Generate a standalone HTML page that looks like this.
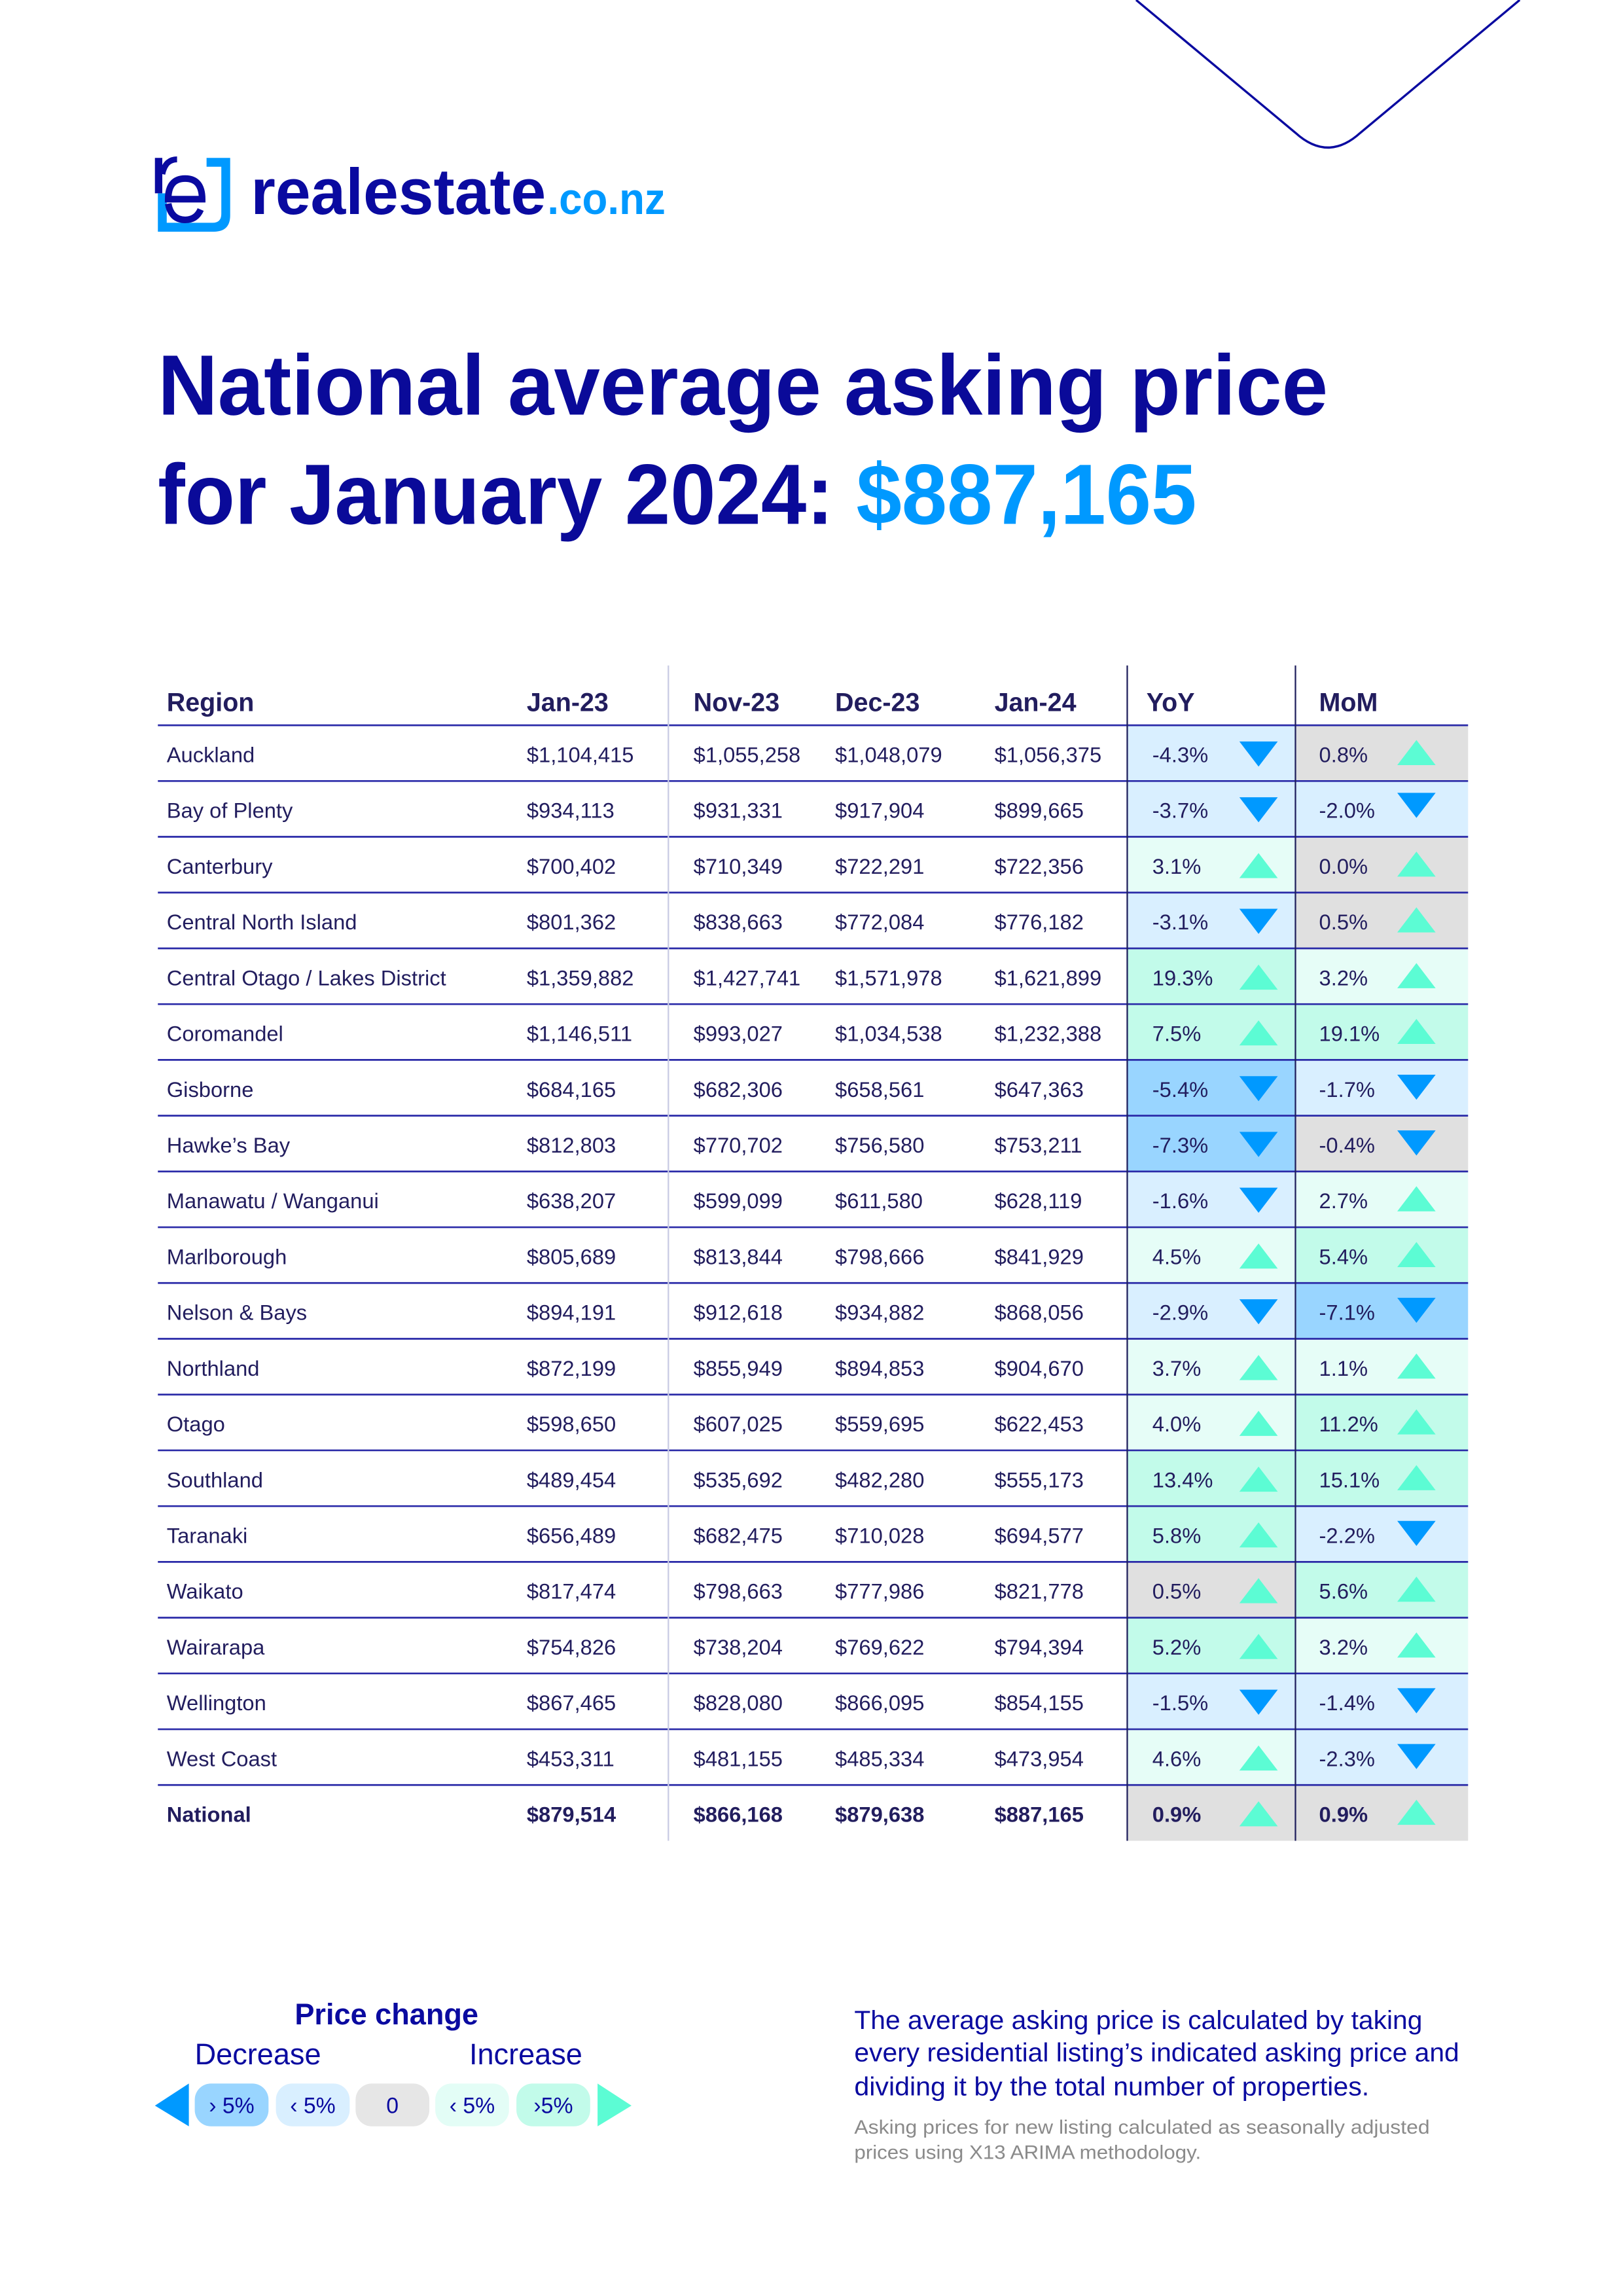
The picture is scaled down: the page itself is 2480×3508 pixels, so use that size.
<!DOCTYPE html>
<html><head><meta charset="utf-8"><style>
html,body{margin:0;padding:0;background:#fff;}
svg{display:block;}
.t{font-family:"Liberation Sans",sans-serif;fill:#221d5e;font-size:14.5px;}
.h{font-family:"Liberation Sans",sans-serif;fill:#221d5e;font-size:17.5px;font-weight:bold;}
.a{fill:#99d5ff}.b{fill:#d9efff}.g{fill:#e0e0e0}.c{fill:#e6fdf7}.e{fill:#c2fbea}
</style></head><body>
<svg width="2480" height="3508" viewBox="0 0 1100 1556" preserveAspectRatio="none" xmlns="http://www.w3.org/2000/svg">
<defs>
<polygon id="u" points="0,17 13,0 26,17" fill="#5cfcd4"/>
<polygon id="d" points="0,0 26,0 13,17" fill="#0099ff"/>
</defs>
<rect width="1100" height="1556" fill="#fff"/>
<path d="M770,0 L878,90 Q900,110 922,90 L1030,0" fill="none" stroke="#0a0aa0" stroke-width="1.5"/>
<!-- logo -->
<path d="M140,107 H156 V146 Q156,157 145,157 H107 V131 H113 V151 H144 Q150,151 150,145 V113 H140 Z" fill="#0099ff"/>
<rect x="105" y="107" width="5" height="24" fill="#0a0aa0"/>
<path d="M110,118 Q112,108 120,108" fill="none" stroke="#0a0aa0" stroke-width="4"/>
<path d="M137,135 H114 Q114,121 125.5,121 Q137,121 137,135 Z M114,138 Q116,149 125.5,149 Q133,149 136,142" fill="none" stroke="#0a0aa0" stroke-width="4.5"/>
<text x="170" y="145" font-family="Liberation Sans,sans-serif" font-weight="bold" font-size="44" fill="#0a0aa0" textLength="200" lengthAdjust="spacingAndGlyphs">realestate</text>
<text x="371" y="145" font-family="Liberation Sans,sans-serif" font-weight="bold" font-size="30" fill="#0099ff" textLength="80" lengthAdjust="spacingAndGlyphs">.co.nz</text>
<!-- title -->
<text x="107" y="281" font-family="Liberation Sans,sans-serif" font-weight="bold" font-size="58" fill="#0a0a99" textLength="793" lengthAdjust="spacingAndGlyphs">National average asking price</text>
<text x="107" y="355" font-family="Liberation Sans,sans-serif" font-weight="bold" font-size="58" fill="#0a0a99" textLength="704" lengthAdjust="spacingAndGlyphs">for January 2024: <tspan fill="#0099ff">$887,165</tspan></text>
<!-- header -->
<text class="h" x="113" y="482">Region</text>
<text class="h" x="357" y="482">Jan-23</text>
<text class="h" x="470" y="482">Nov-23</text>
<text class="h" x="566" y="482">Dec-23</text>
<text class="h" x="674" y="482">Jan-24</text>
<text class="h" x="777" y="482">YoY</text>
<text class="h" x="894" y="482">MoM</text>

<g id="rows">
<g transform="translate(0,491.5)"><rect class="b" x="764" width="114" height="37.8"/><rect class="g" x="878" width="117" height="37.8"/>
<text class="t" x="113" y="25">Auckland</text><text class="t" x="357" y="25">$1,104,415</text><text class="t" x="470" y="25">$1,055,258</text><text class="t" x="566" y="25">$1,048,079</text><text class="t" x="674" y="25">$1,056,375</text><text class="t" x="781" y="25">-4.3%</text><text class="t" x="894" y="25">0.8%</text><use href="#d" x="840" y="11"/><use href="#u" x="947" y="10"/></g>
<g transform="translate(0,529.3)"><rect class="b" x="764" width="114" height="37.8"/><rect class="b" x="878" width="117" height="37.8"/>
<text class="t" x="113" y="25">Bay of Plenty</text><text class="t" x="357" y="25">$934,113</text><text class="t" x="470" y="25">$931,331</text><text class="t" x="566" y="25">$917,904</text><text class="t" x="674" y="25">$899,665</text><text class="t" x="781" y="25">-3.7%</text><text class="t" x="894" y="25">-2.0%</text><use href="#d" x="840" y="11"/><use href="#d" x="947" y="8"/></g>
<g transform="translate(0,567.1)"><rect class="c" x="764" width="114" height="37.8"/><rect class="g" x="878" width="117" height="37.8"/>
<text class="t" x="113" y="25">Canterbury</text><text class="t" x="357" y="25">$700,402</text><text class="t" x="470" y="25">$710,349</text><text class="t" x="566" y="25">$722,291</text><text class="t" x="674" y="25">$722,356</text><text class="t" x="781" y="25">3.1%</text><text class="t" x="894" y="25">0.0%</text><use href="#u" x="840" y="11"/><use href="#u" x="947" y="10"/></g>
<g transform="translate(0,604.9)"><rect class="b" x="764" width="114" height="37.8"/><rect class="g" x="878" width="117" height="37.8"/>
<text class="t" x="113" y="25">Central North Island</text><text class="t" x="357" y="25">$801,362</text><text class="t" x="470" y="25">$838,663</text><text class="t" x="566" y="25">$772,084</text><text class="t" x="674" y="25">$776,182</text><text class="t" x="781" y="25">-3.1%</text><text class="t" x="894" y="25">0.5%</text><use href="#d" x="840" y="11"/><use href="#u" x="947" y="10"/></g>
<g transform="translate(0,642.7)"><rect class="e" x="764" width="114" height="37.8"/><rect class="c" x="878" width="117" height="37.8"/>
<text class="t" x="113" y="25">Central Otago / Lakes District</text><text class="t" x="357" y="25">$1,359,882</text><text class="t" x="470" y="25">$1,427,741</text><text class="t" x="566" y="25">$1,571,978</text><text class="t" x="674" y="25">$1,621,899</text><text class="t" x="781" y="25">19.3%</text><text class="t" x="894" y="25">3.2%</text><use href="#u" x="840" y="11"/><use href="#u" x="947" y="10"/></g>
<g transform="translate(0,680.5)"><rect class="e" x="764" width="114" height="37.8"/><rect class="e" x="878" width="117" height="37.8"/>
<text class="t" x="113" y="25">Coromandel</text><text class="t" x="357" y="25">$1,146,511</text><text class="t" x="470" y="25">$993,027</text><text class="t" x="566" y="25">$1,034,538</text><text class="t" x="674" y="25">$1,232,388</text><text class="t" x="781" y="25">7.5%</text><text class="t" x="894" y="25">19.1%</text><use href="#u" x="840" y="11"/><use href="#u" x="947" y="10"/></g>
<g transform="translate(0,718.3)"><rect class="a" x="764" width="114" height="37.8"/><rect class="b" x="878" width="117" height="37.8"/>
<text class="t" x="113" y="25">Gisborne</text><text class="t" x="357" y="25">$684,165</text><text class="t" x="470" y="25">$682,306</text><text class="t" x="566" y="25">$658,561</text><text class="t" x="674" y="25">$647,363</text><text class="t" x="781" y="25">-5.4%</text><text class="t" x="894" y="25">-1.7%</text><use href="#d" x="840" y="11"/><use href="#d" x="947" y="10"/></g>
<g transform="translate(0,756.1)"><rect class="a" x="764" width="114" height="37.8"/><rect class="g" x="878" width="117" height="37.8"/>
<text class="t" x="113" y="25">Hawke’s Bay</text><text class="t" x="357" y="25">$812,803</text><text class="t" x="470" y="25">$770,702</text><text class="t" x="566" y="25">$756,580</text><text class="t" x="674" y="25">$753,211</text><text class="t" x="781" y="25">-7.3%</text><text class="t" x="894" y="25">-0.4%</text><use href="#d" x="840" y="11"/><use href="#d" x="947" y="10"/></g>
<g transform="translate(0,793.9)"><rect class="b" x="764" width="114" height="37.8"/><rect class="c" x="878" width="117" height="37.8"/>
<text class="t" x="113" y="25">Manawatu / Wanganui</text><text class="t" x="357" y="25">$638,207</text><text class="t" x="470" y="25">$599,099</text><text class="t" x="566" y="25">$611,580</text><text class="t" x="674" y="25">$628,119</text><text class="t" x="781" y="25">-1.6%</text><text class="t" x="894" y="25">2.7%</text><use href="#d" x="840" y="11"/><use href="#u" x="947" y="10"/></g>
<g transform="translate(0,831.7)"><rect class="c" x="764" width="114" height="37.8"/><rect class="e" x="878" width="117" height="37.8"/>
<text class="t" x="113" y="25">Marlborough</text><text class="t" x="357" y="25">$805,689</text><text class="t" x="470" y="25">$813,844</text><text class="t" x="566" y="25">$798,666</text><text class="t" x="674" y="25">$841,929</text><text class="t" x="781" y="25">4.5%</text><text class="t" x="894" y="25">5.4%</text><use href="#u" x="840" y="11"/><use href="#u" x="947" y="10"/></g>
<g transform="translate(0,869.5)"><rect class="b" x="764" width="114" height="37.8"/><rect class="a" x="878" width="117" height="37.8"/>
<text class="t" x="113" y="25">Nelson &amp; Bays</text><text class="t" x="357" y="25">$894,191</text><text class="t" x="470" y="25">$912,618</text><text class="t" x="566" y="25">$934,882</text><text class="t" x="674" y="25">$868,056</text><text class="t" x="781" y="25">-2.9%</text><text class="t" x="894" y="25">-7.1%</text><use href="#d" x="840" y="11"/><use href="#d" x="947" y="10"/></g>
<g transform="translate(0,907.3)"><rect class="c" x="764" width="114" height="37.8"/><rect class="c" x="878" width="117" height="37.8"/>
<text class="t" x="113" y="25">Northland</text><text class="t" x="357" y="25">$872,199</text><text class="t" x="470" y="25">$855,949</text><text class="t" x="566" y="25">$894,853</text><text class="t" x="674" y="25">$904,670</text><text class="t" x="781" y="25">3.7%</text><text class="t" x="894" y="25">1.1%</text><use href="#u" x="840" y="11"/><use href="#u" x="947" y="10"/></g>
<g transform="translate(0,945.1)"><rect class="c" x="764" width="114" height="37.8"/><rect class="e" x="878" width="117" height="37.8"/>
<text class="t" x="113" y="25">Otago</text><text class="t" x="357" y="25">$598,650</text><text class="t" x="470" y="25">$607,025</text><text class="t" x="566" y="25">$559,695</text><text class="t" x="674" y="25">$622,453</text><text class="t" x="781" y="25">4.0%</text><text class="t" x="894" y="25">11.2%</text><use href="#u" x="840" y="11"/><use href="#u" x="947" y="10"/></g>
<g transform="translate(0,982.9)"><rect class="e" x="764" width="114" height="37.8"/><rect class="e" x="878" width="117" height="37.8"/>
<text class="t" x="113" y="25">Southland</text><text class="t" x="357" y="25">$489,454</text><text class="t" x="470" y="25">$535,692</text><text class="t" x="566" y="25">$482,280</text><text class="t" x="674" y="25">$555,173</text><text class="t" x="781" y="25">13.4%</text><text class="t" x="894" y="25">15.1%</text><use href="#u" x="840" y="11"/><use href="#u" x="947" y="10"/></g>
<g transform="translate(0,1020.7)"><rect class="e" x="764" width="114" height="37.8"/><rect class="b" x="878" width="117" height="37.8"/>
<text class="t" x="113" y="25">Taranaki</text><text class="t" x="357" y="25">$656,489</text><text class="t" x="470" y="25">$682,475</text><text class="t" x="566" y="25">$710,028</text><text class="t" x="674" y="25">$694,577</text><text class="t" x="781" y="25">5.8%</text><text class="t" x="894" y="25">-2.2%</text><use href="#u" x="840" y="11"/><use href="#d" x="947" y="10"/></g>
<g transform="translate(0,1058.5)"><rect class="g" x="764" width="114" height="37.8"/><rect class="e" x="878" width="117" height="37.8"/>
<text class="t" x="113" y="25">Waikato</text><text class="t" x="357" y="25">$817,474</text><text class="t" x="470" y="25">$798,663</text><text class="t" x="566" y="25">$777,986</text><text class="t" x="674" y="25">$821,778</text><text class="t" x="781" y="25">0.5%</text><text class="t" x="894" y="25">5.6%</text><use href="#u" x="840" y="11"/><use href="#u" x="947" y="10"/></g>
<g transform="translate(0,1096.3)"><rect class="e" x="764" width="114" height="37.8"/><rect class="c" x="878" width="117" height="37.8"/>
<text class="t" x="113" y="25">Wairarapa</text><text class="t" x="357" y="25">$754,826</text><text class="t" x="470" y="25">$738,204</text><text class="t" x="566" y="25">$769,622</text><text class="t" x="674" y="25">$794,394</text><text class="t" x="781" y="25">5.2%</text><text class="t" x="894" y="25">3.2%</text><use href="#u" x="840" y="11"/><use href="#u" x="947" y="10"/></g>
<g transform="translate(0,1134.1)"><rect class="b" x="764" width="114" height="37.8"/><rect class="b" x="878" width="117" height="37.8"/>
<text class="t" x="113" y="25">Wellington</text><text class="t" x="357" y="25">$867,465</text><text class="t" x="470" y="25">$828,080</text><text class="t" x="566" y="25">$866,095</text><text class="t" x="674" y="25">$854,155</text><text class="t" x="781" y="25">-1.5%</text><text class="t" x="894" y="25">-1.4%</text><use href="#d" x="840" y="11"/><use href="#d" x="947" y="10"/></g>
<g transform="translate(0,1171.9)"><rect class="c" x="764" width="114" height="37.8"/><rect class="b" x="878" width="117" height="37.8"/>
<text class="t" x="113" y="25">West Coast</text><text class="t" x="357" y="25">$453,311</text><text class="t" x="470" y="25">$481,155</text><text class="t" x="566" y="25">$485,334</text><text class="t" x="674" y="25">$473,954</text><text class="t" x="781" y="25">4.6%</text><text class="t" x="894" y="25">-2.3%</text><use href="#u" x="840" y="11"/><use href="#d" x="947" y="10"/></g>
<g transform="translate(0,1209.7)" font-weight="bold"><rect class="g" x="764" width="114" height="37.8"/><rect class="g" x="878" width="117" height="37.8"/>
<text class="t" x="113" y="25">National</text><text class="t" x="357" y="25">$879,514</text><text class="t" x="470" y="25">$866,168</text><text class="t" x="566" y="25">$879,638</text><text class="t" x="674" y="25">$887,165</text><text class="t" x="781" y="25">0.9%</text><text class="t" x="894" y="25">0.9%</text><use href="#u" x="840" y="11"/><use href="#u" x="947" y="10"/></g>
</g>
<!-- grid lines -->
<g stroke="#2a2aa8" stroke-width="1.2">
<line x1="107" x2="995" y1="491.5" y2="491.5"/><line x1="107" x2="995" y1="529.3" y2="529.3"/><line x1="107" x2="995" y1="567.1" y2="567.1"/><line x1="107" x2="995" y1="604.9" y2="604.9"/><line x1="107" x2="995" y1="642.7" y2="642.7"/><line x1="107" x2="995" y1="680.5" y2="680.5"/><line x1="107" x2="995" y1="718.3" y2="718.3"/><line x1="107" x2="995" y1="756.1" y2="756.1"/><line x1="107" x2="995" y1="793.9" y2="793.9"/><line x1="107" x2="995" y1="831.7" y2="831.7"/><line x1="107" x2="995" y1="869.5" y2="869.5"/><line x1="107" x2="995" y1="907.3" y2="907.3"/><line x1="107" x2="995" y1="945.1" y2="945.1"/><line x1="107" x2="995" y1="982.9" y2="982.9"/><line x1="107" x2="995" y1="1020.7" y2="1020.7"/><line x1="107" x2="995" y1="1058.5" y2="1058.5"/><line x1="107" x2="995" y1="1096.3" y2="1096.3"/><line x1="107" x2="995" y1="1134.1" y2="1134.1"/><line x1="107" x2="995" y1="1171.9" y2="1171.9"/><line x1="107" x2="995" y1="1209.7" y2="1209.7"/>
</g>
<line x1="453" x2="453" y1="451" y2="1247.5" stroke="#c8cbe3" stroke-width="1"/>
<line x1="764" x2="764" y1="451" y2="1247.5" stroke="#1e1e5c" stroke-width="1"/>
<line x1="878" x2="878" y1="451" y2="1247.5" stroke="#1e1e5c" stroke-width="1"/>
<!-- legend -->
<text x="262" y="1372" text-anchor="middle" font-family="Liberation Sans,sans-serif" font-weight="bold" font-size="20" fill="#0a0aa0">Price change</text>
<text x="132" y="1399" font-family="Liberation Sans,sans-serif" font-size="20" fill="#0a0aa0">Decrease</text>
<text x="318" y="1399" font-family="Liberation Sans,sans-serif" font-size="20" fill="#0a0aa0">Increase</text>
<polygon points="105,1427 128,1412 128,1441" fill="#0099ff"/>
<polygon points="405,1412 405,1441 428,1427" fill="#5cfcd4"/>
<rect x="132" y="1412" width="50" height="29" rx="11" fill="#99d5ff"/>
<rect x="187" y="1412" width="50" height="29" rx="11" fill="#d9efff"/>
<rect x="241" y="1412" width="50" height="29" rx="11" fill="#e6e6e6"/>
<rect x="295" y="1412" width="50" height="29" rx="11" fill="#e3fdf6"/>
<rect x="350" y="1412" width="50" height="29" rx="11" fill="#c2fbea"/>
<g font-family="Liberation Sans,sans-serif" font-size="15" fill="#0a0aa0" text-anchor="middle">
<text x="157" y="1432">› 5%</text><text x="212" y="1432">‹ 5%</text><text x="266" y="1432">0</text><text x="320" y="1432">‹ 5%</text><text x="375" y="1432">›5%</text>
</g>
<g font-family="Liberation Sans,sans-serif" font-size="17.5" fill="#0a0aa0">
<text x="579" y="1375" textLength="385" lengthAdjust="spacingAndGlyphs">The average asking price is calculated by taking</text>
<text x="579" y="1397" textLength="410" lengthAdjust="spacingAndGlyphs">every residential listing’s indicated asking price and</text>
<text x="579" y="1420" textLength="349" lengthAdjust="spacingAndGlyphs">dividing it by the total number of properties.</text>
</g>
<g font-family="Liberation Sans,sans-serif" font-size="13" fill="#8a8a8a">
<text x="579" y="1446" textLength="390" lengthAdjust="spacingAndGlyphs">Asking prices for new listing calculated as seasonally adjusted</text>
<text x="579" y="1463" textLength="235" lengthAdjust="spacingAndGlyphs">prices using X13 ARIMA methodology.</text>
</g>
</svg>
</body></html>
